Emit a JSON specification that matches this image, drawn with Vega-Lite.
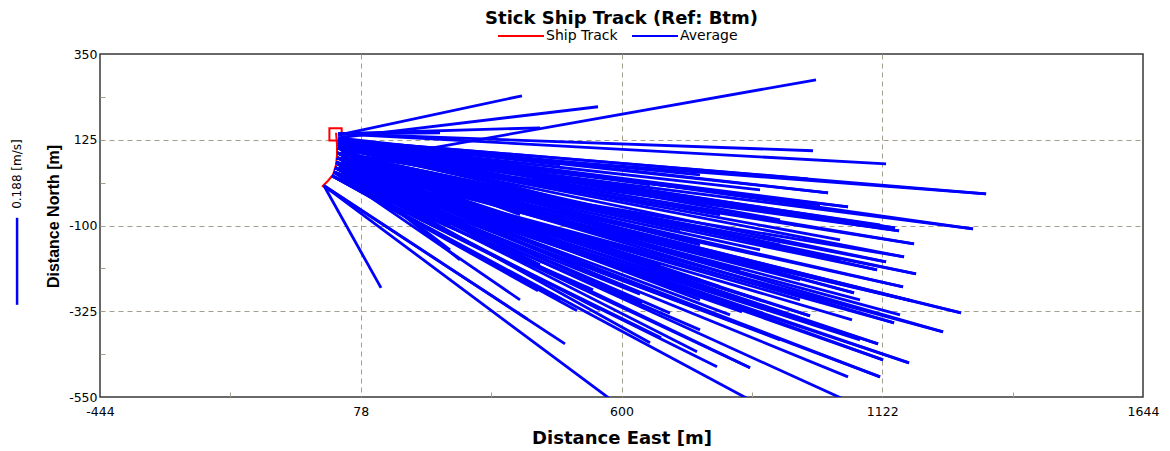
{
  "$schema": "https://vega.github.io/schema/vega-lite/v6.json",
  "width": 1043,
  "height": 343,
  "autosize": {"type": "none"},
  "padding": {"left": 100, "top": 54, "right": 27, "bottom": 54},
  "background": "#ffffff",
  "title": {
    "text": "Stick Ship Track (Ref: Btm)",
    "font": "DejaVu Sans",
    "fontSize": 18,
    "fontWeight": "bold",
    "color": "#000000",
    "anchor": "middle",
    "orient": "top",
    "offset": -16
  },
  "config": {
    "view": {"stroke": "#383838", "strokeWidth": 1.5},
    "legend": {
      "orient": "none",
      "legendX": 397,
      "legendY": -42,
      "direction": "horizontal",
      "symbolType": "stroke",
      "symbolSize": 2116,
      "symbolStrokeWidth": 2,
      "labelFont": "DejaVu Sans",
      "labelFontSize": 14,
      "labelColor": "#000000",
      "labelOffset": 1,
      "columnPadding": 10,
      "padding": 0,
      "title": null
    }
  },
  "layer": [
    {
      "data": {"values": [
        {"x": 28.5, "y": 143.3, "o": 1},
        {"x": 30.5, "y": 111.8, "o": 2},
        {"x": 30.5, "y": 85.6, "o": 3},
        {"x": 28.5, "y": 59.4, "o": 4},
        {"x": 22.5, "y": 33.2, "o": 5},
        {"x": 12.5, "y": 17.4, "o": 6},
        {"x": 0.4, "y": 1.7, "o": 7}
      ]},
      "mark": {"type": "line", "strokeWidth": 2},
      "encoding": {
        "x": {
          "field": "x", "type": "quantitative",
          "scale": {"domain": [-444, 1644], "nice": false, "zero": false},
          "axis": {
            "values": [-444, -183, 78, 339, 600, 861, 1122, 1383, 1644],
            "labelExpr": "indexof([-444, 78, 600, 1122, 1644], datum.value) >= 0 ? toString(datum.value) : ''",
            "labelFont": "DejaVu Sans",
            "labelFontSize": 12.5,
            "labelColor": "#000000",
            "labelFlush": false,
            "labelOverlap": false,
            "labelPadding": 13,
            "domain": false,
            "ticks": true,
            "tickSize": -5,
            "tickColor": {"condition": {"test": "indexof([-183, 339, 861, 1383], datum.value) >= 0", "value": "#a49f8d"}, "value": "transparent"},
            "grid": true,
            "gridColor": "#a49f8d",
            "gridDash": [5, 4],
            "gridWidth": 1,
            "gridOpacity": {"condition": {"test": "indexof([78, 600, 1122], datum.value) >= 0", "value": 1}, "value": 0},
            "title": "Distance East [m]",
            "titleFont": "DejaVu Sans",
            "titleFontSize": 18,
            "titleFontWeight": "bold",
            "titleColor": "#000000",
            "titleBaseline": "alphabetic",
            "titleY": 46
          }
        },
        "y": {
          "field": "y", "type": "quantitative",
          "scale": {"domain": [-550, 350], "nice": false, "zero": false},
          "axis": {
            "values": [350, 237.5, 125, 12.5, -100, -212.5, -325, -437.5, -550],
            "labelExpr": "indexof([350, 125, -100, -325, -550], datum.value) >= 0 ? toString(datum.value) : ''",
            "labelFont": "DejaVu Sans",
            "labelFontSize": 12.5,
            "labelColor": "#000000",
            "labelFlush": false,
            "labelOverlap": false,
            "labelPadding": 8,
            "domain": false,
            "ticks": true,
            "tickSize": -5,
            "tickColor": {"condition": {"test": "indexof([237.5, 12.5, -212.5, -437.5], datum.value) >= 0", "value": "#a49f8d"}, "value": "transparent"},
            "grid": true,
            "gridColor": "#a49f8d",
            "gridDash": [5, 4],
            "gridWidth": 1,
            "gridOpacity": {"condition": {"test": "indexof([125, -100, -325], datum.value) >= 0", "value": 1}, "value": 0},
            "title": "Distance North [m]",
            "titleFont": "Liberation Sans",
            "titleFontSize": 16,
            "titleFontWeight": "bold",
            "titleColor": "#000000",
            "titleBaseline": "alphabetic",
            "titleAngle": 270,
            "titleX": -42,
            "titleY": 162
          }
        },
        "order": {"field": "o"},
        "color": {
          "datum": "Ship Track",
          "type": "nominal",
          "scale": {"domain": ["Ship Track", "Average"], "range": ["#ff0000", "#0000ff"]}
        }
      }
    },
    {
      "data": {"values": [{"x": 27.5, "y": 139.4}]},
      "mark": {"type": "point", "shape": "square", "filled": false, "size": 150, "strokeWidth": 2, "color": "#ff0000", "opacity": 1},
      "encoding": {
        "x": {"field": "x", "type": "quantitative"},
        "y": {"field": "y", "type": "quantitative"}
      }
    },
    {
      "data": {"values": [
        {"sx": 32.5, "sy": 137.0, "ex": 400.8, "ey": 240.4},
        {"sx": 32.5, "sy": 140.7, "ex": 236.7, "ey": 143.3},
        {"sx": 32.5, "sy": 140.7, "ex": 436.9, "ey": 156.4},
        {"sx": 32.5, "sy": 130.2, "ex": 553.0, "ey": 211.6},
        {"sx": 30.5, "sy": 59.3, "ex": 989.4, "ey": 282.4},
        {"sx": 32.5, "sy": 140.7, "ex": 983.4, "ey": 96.1},
        {"sx": 32.5, "sy": 140.7, "ex": 1129.6, "ey": 61.9},
        {"sx": 32.5, "sy": 124.9, "ex": 973.4, "ey": 22.6},
        {"sx": 32.5, "sy": 124.9, "ex": 1329.8, "ey": -16.8},
        {"sx": 32.5, "sy": 124.9, "ex": 1013.5, "ey": -14.2},
        {"sx": 32.5, "sy": 103.9, "ex": 1053.5, "ey": -50.9},
        {"sx": 32.5, "sy": 124.9, "ex": 597.0, "ey": -71.9},
        {"sx": 32.5, "sy": 124.9, "ex": 917.4, "ey": -85.0},
        {"sx": 32.5, "sy": 103.9, "ex": 757.2, "ey": -32.5},
        {"sx": 32.5, "sy": 103.9, "ex": 1303.7, "ey": -108.7},
        {"sx": 32.5, "sy": 103.9, "ex": 1147.6, "ey": -106.0},
        {"sx": 32.5, "sy": 103.9, "ex": 1155.6, "ey": -113.9},
        {"sx": 32.5, "sy": 103.9, "ex": 1185.6, "ey": -148.0},
        {"sx": 32.5, "sy": 103.9, "ex": 1165.6, "ey": -182.2},
        {"sx": 30.5, "sy": 77.7, "ex": 1129.6, "ey": -195.3},
        {"sx": 30.5, "sy": 77.7, "ex": 1111.6, "ey": -216.3},
        {"sx": 30.5, "sy": 77.7, "ex": 1189.6, "ey": -226.8},
        {"sx": 30.5, "sy": 77.7, "ex": 1163.6, "ey": -260.9},
        {"sx": 32.5, "sy": 103.9, "ex": 1037.5, "ey": -137.5},
        {"sx": 30.5, "sy": 77.7, "ex": 657.1, "ey": -111.3},
        {"sx": 30.5, "sy": 77.7, "ex": 877.3, "ey": -163.8},
        {"sx": 30.5, "sy": 77.7, "ex": 1065.5, "ey": -276.6},
        {"sx": 30.5, "sy": 77.7, "ex": 1181.6, "ey": -297.6},
        {"sx": 30.5, "sy": 77.7, "ex": 1279.7, "ey": -329.1},
        {"sx": 26.5, "sy": 51.4, "ex": 1145.6, "ey": -355.4},
        {"sx": 26.5, "sy": 51.4, "ex": 1061.5, "ey": -347.5},
        {"sx": 30.5, "sy": 77.7, "ex": 1243.7, "ey": -379.0},
        {"sx": 26.5, "sy": 51.4, "ex": 977.4, "ey": -337.0},
        {"sx": 26.5, "sy": 51.4, "ex": 841.3, "ey": -326.5},
        {"sx": 26.5, "sy": 51.4, "ex": 817.3, "ey": -334.4},
        {"sx": 26.5, "sy": 51.4, "ex": 1113.6, "ey": -410.5},
        {"sx": 26.5, "sy": 51.4, "ex": 1123.6, "ey": -452.5},
        {"sx": 26.5, "sy": 51.4, "ex": 1175.6, "ey": -460.4},
        {"sx": 26.5, "sy": 51.4, "ex": 1117.6, "ey": -497.1},
        {"sx": 26.5, "sy": 51.4, "ex": 1053.5, "ey": -497.1},
        {"sx": 26.5, "sy": 51.4, "ex": 857.3, "ey": -473.5},
        {"sx": 20.5, "sy": 30.4, "ex": 791.2, "ey": -470.9},
        {"sx": 20.5, "sy": 30.4, "ex": 853.3, "ey": -555.0},
        {"sx": 26.5, "sy": 51.4, "ex": 1043.5, "ey": -555.0},
        {"sx": 26.5, "sy": 51.4, "ex": 557.0, "ey": -163.8},
        {"sx": 26.5, "sy": 51.4, "ex": 757.2, "ey": -242.5},
        {"sx": 26.5, "sy": 51.4, "ex": 957.4, "ey": -295.0},
        {"sx": 20.5, "sy": 30.4, "ex": 477.0, "ey": -295.0},
        {"sx": 26.5, "sy": 51.4, "ex": 751.2, "ey": -431.5},
        {"sx": 20.5, "sy": 30.4, "ex": 679.1, "ey": -394.8},
        {"sx": 4.4, "sy": 4.2, "ex": 118.6, "ey": -263.5},
        {"sx": 4.4, "sy": 4.2, "ex": 410.9, "ey": -344.9},
        {"sx": 4.4, "sy": 4.2, "ex": 486.9, "ey": -410.5},
        {"sx": 4.4, "sy": 4.2, "ex": 577.0, "ey": -555.0},
        {"sx": 20.5, "sy": 30.4, "ex": 432.9, "ey": -271.4},
        {"sx": 20.5, "sy": 30.4, "ex": 511.0, "ey": -323.9},
        {"sx": 20.5, "sy": 30.4, "ex": 543.0, "ey": -268.8},
        {"sx": 26.5, "sy": 51.4, "ex": 657.1, "ey": -407.9},
        {"sx": 26.5, "sy": 51.4, "ex": 641.1, "ey": -302.9},
        {"sx": 32.5, "sy": 124.9, "ex": 757.2, "ey": 33.1},
        {"sx": 32.5, "sy": 118.0, "ex": 877.3, "ey": -6.3},
        {"sx": 32.5, "sy": 124.9, "ex": 657.1, "ey": 6.8},
        {"sx": 32.5, "sy": 112.0, "ex": 997.4, "ey": -45.7},
        {"sx": 32.5, "sy": 118.0, "ex": 557.0, "ey": -6.3},
        {"sx": 32.5, "sy": 103.9, "ex": 797.2, "ey": -71.9},
        {"sx": 32.5, "sy": 112.0, "ex": 1117.6, "ey": -98.2},
        {"sx": 32.5, "sy": 112.0, "ex": 476.9, "ey": -32.5},
        {"sx": 31.5, "sy": 90.0, "ex": 717.2, "ey": -111.3},
        {"sx": 31.5, "sy": 90.0, "ex": 917.4, "ey": -150.7},
        {"sx": 31.5, "sy": 90.0, "ex": 1037.5, "ey": -190.0},
        {"sx": 31.5, "sy": 90.0, "ex": 597.0, "ey": -137.5},
        {"sx": 32.5, "sy": 103.9, "ex": 396.8, "ey": -71.9},
        {"sx": 30.5, "sy": 77.7, "ex": 837.3, "ey": -216.3},
        {"sx": 29.0, "sy": 65.0, "ex": 957.4, "ey": -242.5},
        {"sx": 30.5, "sy": 77.7, "ex": 677.1, "ey": -203.2},
        {"sx": 31.5, "sy": 90.0, "ex": 517.0, "ey": -163.8},
        {"sx": 29.0, "sy": 65.0, "ex": 757.2, "ey": -295.0},
        {"sx": 29.0, "sy": 65.0, "ex": 597.0, "ey": -255.6},
        {"sx": 29.0, "sy": 65.0, "ex": 436.9, "ey": -203.2},
        {"sx": 29.0, "sy": 65.0, "ex": 1077.5, "ey": -295.0},
        {"sx": 26.5, "sy": 51.4, "ex": 877.3, "ey": -295.0},
        {"sx": 29.0, "sy": 65.0, "ex": 1157.6, "ey": -334.4},
        {"sx": 30.5, "sy": 77.7, "ex": 356.8, "ey": -163.8},
        {"sx": 31.5, "sy": 90.0, "ex": 316.8, "ey": -124.4},
        {"sx": 32.5, "sy": 103.9, "ex": 256.7, "ey": -98.2},
        {"sx": 29.0, "sy": 65.0, "ex": 276.7, "ey": -190.0},
        {"sx": 24.0, "sy": 40.0, "ex": 757.2, "ey": -373.8},
        {"sx": 24.0, "sy": 40.0, "ex": 917.4, "ey": -400.0},
        {"sx": 24.0, "sy": 40.0, "ex": 1077.5, "ey": -400.0},
        {"sx": 24.0, "sy": 40.0, "ex": 557.0, "ey": -321.3},
        {"sx": 24.0, "sy": 40.0, "ex": 396.8, "ey": -295.0},
        {"sx": 32.5, "sy": 124.9, "ex": 1303.7, "ey": -108.7},
        {"sx": 31.5, "sy": 90.0, "ex": 1185.6, "ey": -148.0},
        {"sx": 29.0, "sy": 65.0, "ex": 1165.6, "ey": -182.2},
        {"sx": 31.5, "sy": 90.0, "ex": 1189.6, "ey": -226.8},
        {"sx": 29.0, "sy": 65.0, "ex": 1163.6, "ey": -260.9},
        {"sx": 26.5, "sy": 51.4, "ex": 1181.6, "ey": -297.6},
        {"sx": 29.0, "sy": 65.0, "ex": 1279.7, "ey": -329.1},
        {"sx": 26.5, "sy": 51.4, "ex": 1243.7, "ey": -379.0},
        {"sx": 30.5, "sy": 77.7, "ex": 1145.6, "ey": -355.4},
        {"sx": 29.0, "sy": 65.0, "ex": 1113.6, "ey": -410.5},
        {"sx": 24.0, "sy": 40.0, "ex": 1175.6, "ey": -460.4},
        {"sx": 32.5, "sy": 103.9, "ex": 1129.6, "ey": -195.3},
        {"sx": 32.5, "sy": 103.9, "ex": 1111.6, "ey": -216.3},
        {"sx": 31.5, "sy": 90.0, "ex": 1065.5, "ey": -276.6},
        {"sx": 29.0, "sy": 65.0, "ex": 977.4, "ey": -337.0},
        {"sx": 32.5, "sy": 112.0, "ex": 1329.8, "ey": -16.8},
        {"sx": 32.5, "sy": 130.2, "ex": 1013.5, "ey": -14.2},
        {"sx": 32.5, "sy": 118.0, "ex": 1053.5, "ey": -50.9},
        {"sx": 32.5, "sy": 118.0, "ex": 1147.6, "ey": -106.0},
        {"sx": 31.5, "sy": 90.0, "ex": 1155.6, "ey": -113.9},
        {"sx": 24.0, "sy": 40.0, "ex": 857.3, "ey": -473.5},
        {"sx": 29.0, "sy": 65.0, "ex": 1123.6, "ey": -452.5},
        {"sx": 24.0, "sy": 40.0, "ex": 1117.6, "ey": -497.1},
        {"sx": 32.5, "sy": 118.0, "ex": 356.8, "ey": 33.1},
        {"sx": 32.5, "sy": 124.9, "ex": 476.9, "ey": 59.3},
        {"sx": 32.5, "sy": 118.0, "ex": 597.0, "ey": 19.9},
        {"sx": 32.5, "sy": 112.0, "ex": 657.1, "ey": -45.7},
        {"sx": 31.5, "sy": 90.0, "ex": 757.2, "ey": -150.7},
        {"sx": 30.5, "sy": 77.7, "ex": 436.9, "ey": -124.4},
        {"sx": 29.0, "sy": 65.0, "ex": 557.0, "ey": -216.3},
        {"sx": 32.5, "sy": 103.9, "ex": 316.8, "ey": -58.8},
        {"sx": 32.5, "sy": 112.0, "ex": 196.6, "ey": -6.3},
        {"sx": 29.0, "sy": 65.0, "ex": 256.7, "ey": -163.8},
        {"sx": 26.5, "sy": 51.4, "ex": 697.1, "ey": -330.0},
        {"sx": 24.0, "sy": 40.0, "ex": 637.1, "ey": -280.0},
        {"sx": 29.0, "sy": 65.0, "ex": 677.1, "ey": -250.0},
        {"sx": 30.5, "sy": 77.7, "ex": 797.2, "ey": -260.0},
        {"sx": 31.5, "sy": 90.0, "ex": 857.3, "ey": -230.0},
        {"sx": 26.5, "sy": 51.4, "ex": 917.4, "ey": -330.0}
      ]},
      "mark": {"type": "rule", "strokeWidth": 2.8, "clip": true},
      "encoding": {
        "x": {"field": "sx", "type": "quantitative"},
        "y": {"field": "sy", "type": "quantitative"},
        "x2": {"field": "ex"},
        "y2": {"field": "ey"},
        "color": {"datum": "Average", "type": "nominal"}
      }
    },
    {
      "data": {"values": [{"x": -610, "y": -79.8, "y2": -308.1}]},
      "mark": {"type": "rule", "strokeWidth": 2.5, "color": "#0000ff", "clip": false},
      "encoding": {
        "x": {"field": "x", "type": "quantitative"},
        "y": {"field": "y", "type": "quantitative"},
        "y2": {"field": "y2"}
      }
    },
    {
      "data": {"values": [{"x": -610, "y": 34.9, "label": "0.188 [m/s]"}]},
      "mark": {"type": "text", "angle": 270, "align": "center", "baseline": "middle", "font": "DejaVu Sans", "fontSize": 12, "color": "#000000", "clip": false},
      "encoding": {
        "x": {"field": "x", "type": "quantitative"},
        "y": {"field": "y", "type": "quantitative"},
        "text": {"field": "label"}
      }
    }
  ]
}
